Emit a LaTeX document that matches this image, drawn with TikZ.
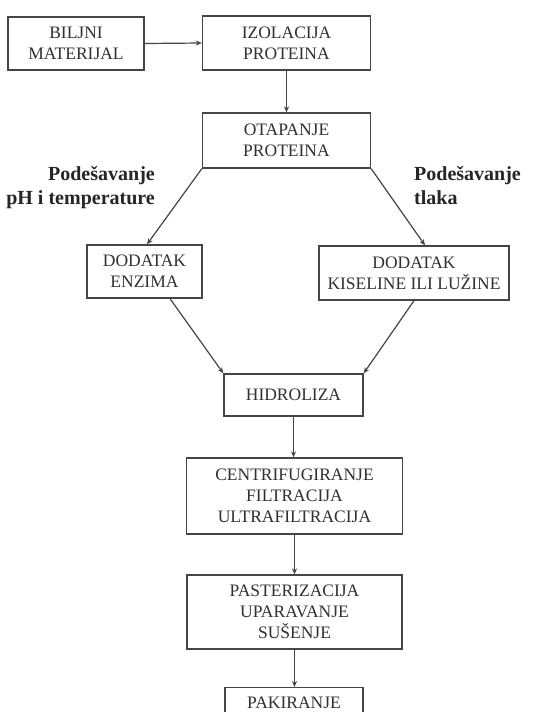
\documentclass[tikz,border=0pt]{standalone}
\usepackage{fontspec}
\setmainfont{Liberation Serif}
\usetikzlibrary{arrows.meta,calc}
\definecolor{lc}{HTML}{454545}
\definecolor{tc}{HTML}{303030}
\begin{document}
\begin{tikzpicture}[x=1pt,y=-1pt,
  box/.style={draw=lc, line width=1.3pt, inner sep=0pt, align=center,
    font=\fontsize{17.5}{21}\selectfont, text=tc},
  conn/.style={draw=lc, line width=1.2pt, -{Stealth[length=6pt,width=5pt]}},
  lbl/.style={font=\fontsize{20}{24}\selectfont\bfseries, inner sep=0pt, text=black!85}]
\useasboundingbox[fill=white] (0,0) rectangle (536,712);

\node[box, minimum width=136pt, minimum height=53pt] (bilj) at (76,43.5) {BILJNI\\MATERIJAL};
\node[box, minimum width=168pt, minimum height=54pt] (izol) at (286.5,43) {IZOLACIJA\\PROTEINA};
\node[box, minimum width=168pt, minimum height=55pt] (otap) at (286.5,140.5) {OTAPANJE\\PROTEINA};
\node[box, minimum width=115pt, minimum height=53pt] (enz) at (144.5,271.5) {DODATAK\\ENZIMA};
\node[box, minimum width=190pt, minimum height=54pt] (kis) at (414,273) {DODATAK\\KISELINE ILI LUŽINE};
\node[box, minimum width=139pt, minimum height=42pt] (hidr) at (293.5,395) {HIDROLIZA};
\node[box, minimum width=216pt, minimum height=76pt] (cent) at (294.5,496) {CENTRIFUGIRANJE\\FILTRACIJA\\ULTRAFILTRACIJA};
\node[box, minimum width=215pt, minimum height=74pt] (past) at (294.5,612) {PASTERIZACIJA\\UPARAVANJE\\SUŠENJE};
\node[box, minimum width=138pt, minimum height=30pt, anchor=north] (pak) at (294,687) {PAKIRANJE};

\node[lbl, anchor=north east, align=right] (l1) at (155,166) {Podešavanje\\pH i temperature};
\node[lbl, anchor=north west, align=left] (l2) at (414,166) {Podešavanje\\tlaka};

\draw[conn] (bilj.east) -- (izol.west);
\draw[conn] (izol.south) -- (otap.north);
\draw[conn] (otap.south west) -- ($(enz.north)+(2.5,0)$);
\draw[conn] (otap.south east) -- ($(kis.north)+(11,0)$);
\draw[conn] ($(enz.south)+(25.5,0)$) -- (hidr.north west);
\draw[conn] (kis.south) -- (hidr.north east);
\draw[conn] (hidr.south) -- (hidr.south |- cent.north);
\draw[conn] (cent.south) -- (cent.south |- past.north);
\draw[conn] (past.south) -- (past.south |- pak.north);
\end{tikzpicture}
\end{document}
